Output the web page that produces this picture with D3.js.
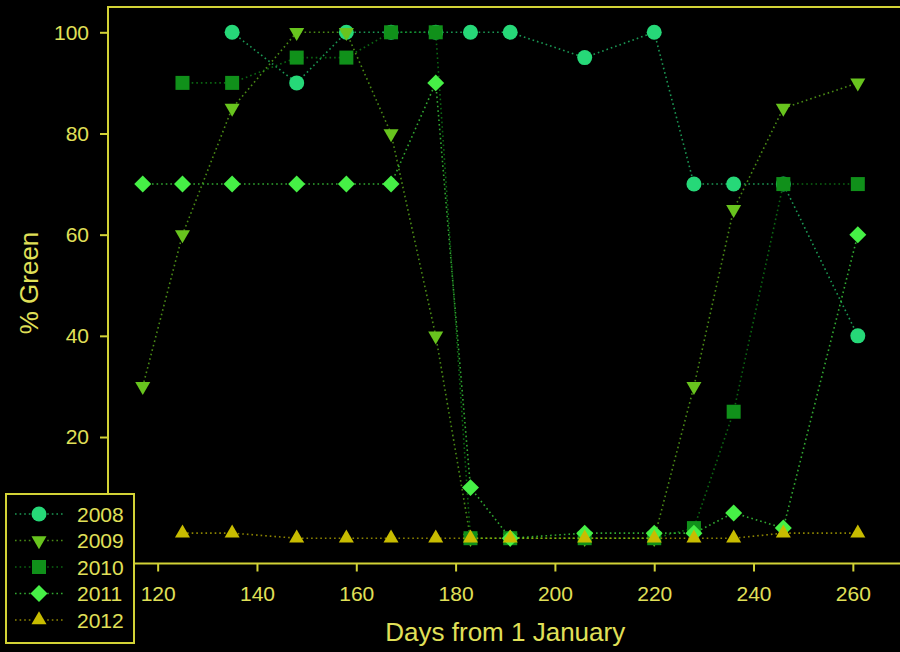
<!DOCTYPE html>
<html>
<head>
<meta charset="utf-8">
<script src="https://cdn.jsdelivr.net/npm/d3@7/dist/d3.min.js"></script>
<style>
  html, body { margin: 0; padding: 0; background: #000; }
  svg { display: block; }
</style>
</head>
<body>
<svg id="chart" width="900" height="652"></svg>
<script>
// Percent of plots still green, by day of year, for five seasons
const days2008 = [135, 148, 158, 167, 176, 183, 191, 206, 220, 228, 236, 246, 261];
const green2008 = [100, 90, 100, 100, 100, 100, 100, 95, 100, 70, 70, 70, 40];

const days2009 = [117, 125, 135, 148, 158, 167, 176, 183, 191, 206, 220, 228, 236, 246, 261];
const green2009 = [30, 60, 85, 100, 100, 80, 40, 0, 0, 0, 0, 30, 65, 85, 90];

const days2010 = [125, 135, 148, 158, 167, 176, 183, 191, 206, 220, 228, 236, 246, 261];
const green2010 = [90, 90, 95, 95, 100, 100, 0, 0, 0, 0, 2, 25, 70, 70];

const days2011 = [117, 125, 135, 148, 158, 167, 176, 183, 191, 206, 220, 228, 236, 246, 261];
const green2011 = [70, 70, 70, 70, 70, 70, 90, 10, 0, 1, 1, 1, 5, 2, 60];

const days2012 = [125, 135, 148, 158, 167, 176, 183, 191, 206, 220, 228, 236, 246, 261];
const green2012 = [1, 1, 0, 0, 0, 0, 0, 0, 0, 0, 0, 0, 1, 1];

const years = ["2008", "2009", "2010", "2011", "2012"];
const xTicks = [120, 140, 160, 180, 200, 220, 240, 260];
const yTicks = [20, 40, 60, 80, 100];

const AXIS = "#d2d236";
const TEXT = "#e0e058";
const FONT = "'Liberation Sans', Arial, Helvetica, sans-serif";

const series = [
  { name: years[0], days: days2008, vals: green2008, color: "#26d878", shape: "circle" },
  { name: years[1], days: days2009, vals: green2009, color: "#68c41e", shape: "down" },
  { name: years[2], days: days2010, vals: green2010, color: "#10901a", shape: "square" },
  { name: years[3], days: days2011, vals: green2011, color: "#46f046", shape: "diamond" },
  { name: years[4], days: days2012, vals: green2012, color: "#c8bc00", shape: "up" }
];

const svg = d3.select("#chart");
svg.append("rect").attr("width", 900).attr("height", 652).attr("fill", "#000");

const x = d3.scaleLinear().domain([110, 270]).range([108, 902.5]);
const y = d3.scaleLinear().domain([-5, 105]).range([563.5, 7]);

// marker generators
const symbolGen = {
  circle: d3.symbol().type(d3.symbolCircle).size(Math.PI * 7.5 * 7.5),
  square: d3.symbol().type(d3.symbolSquare).size(14 * 14),
  diamond: d3.symbol().type(d3.symbolSquare).size(12 * 12),
  up: d3.symbol().type(d3.symbolTriangle).size(98),
  down: d3.symbol().type(d3.symbolTriangle).size(98)
};
const symbolRot = { circle: 0, square: 0, diamond: 45, up: 0, down: 180 };

function placeSymbol(sel, s, px, py) {
  sel.append("path")
    .attr("d", symbolGen[s.shape]())
    .attr("transform", `translate(${px},${py}) rotate(${symbolRot[s.shape]})`)
    .attr("fill", s.color);
}

// plot frame
svg.append("rect")
  .attr("x", x.range()[0]).attr("y", y.range()[1])
  .attr("width", x.range()[1] - x.range()[0])
  .attr("height", y.range()[0] - y.range()[1])
  .attr("fill", "none").attr("stroke", AXIS).attr("stroke-width", 2);

// axes
const yAxis = svg.append("g")
  .attr("transform", `translate(${x.range()[0]},0)`)
  .call(d3.axisLeft(y).tickValues(yTicks).tickSize(8).tickPadding(11));
const xAxis = svg.append("g")
  .attr("transform", `translate(0,${y.range()[0]})`)
  .call(d3.axisBottom(x).tickValues(xTicks).tickSize(8).tickPadding(15));
[xAxis, yAxis].forEach(g => {
  g.select(".domain").remove();
  g.selectAll(".tick line").attr("stroke", AXIS).attr("stroke-width", 2);
  g.selectAll(".tick text")
    .attr("fill", TEXT).style("font-family", FONT).style("font-size", "21px");
});

// axis titles
svg.append("text")
  .attr("transform", "translate(38,283) rotate(-90)")
  .attr("text-anchor", "middle")
  .attr("fill", TEXT).style("font-family", FONT).style("font-size", "26px")
  .text("% Green");
svg.append("text")
  .attr("x", (x.range()[0] + x.range()[1]) / 2).attr("y", 641)
  .attr("text-anchor", "middle")
  .attr("fill", TEXT).style("font-family", FONT).style("font-size", "26px")
  .text("Days from 1 January");

// series: dotted connecting line, then markers
const line = d3.line().x(d => x(d[0])).y(d => y(d[1]));
series.forEach(s => {
  const pts = s.days.map((d, i) => [d, s.vals[i]]);
  const g = svg.append("g");
  g.append("path")
    .attr("d", line(pts))
    .attr("fill", "none")
    .attr("stroke", s.color).attr("stroke-opacity", 0.7)
    .attr("stroke-width", 1.6)
    .attr("stroke-dasharray", "1.6,3");
  pts.forEach(p => placeSymbol(g, s, x(p[0]), y(p[1])));
});

// legend
const leg = svg.append("g");
leg.append("rect")
  .attr("x", 6).attr("y", 494).attr("width", 128).attr("height", 149)
  .attr("fill", "#000").attr("stroke", AXIS).attr("stroke-width", 2);
series.forEach((s, i) => {
  const cy = 514 + i * 26.5;
  leg.append("line")
    .attr("x1", 15).attr("x2", 63).attr("y1", cy).attr("y2", cy)
    .attr("stroke", s.color).attr("stroke-opacity", 0.7)
    .attr("stroke-width", 1.6).attr("stroke-dasharray", "1.6,3");
  leg.append("rect").attr("x", 31).attr("y", cy - 9).attr("width", 16).attr("height", 18).attr("fill", "#000");
  placeSymbol(leg, s, 39, cy);
  leg.append("text")
    .attr("x", 77).attr("y", cy).attr("dy", "0.36em")
    .attr("fill", TEXT).style("font-family", FONT).style("font-size", "21px")
    .text(s.name);
});
</script>
</body>
</html>
